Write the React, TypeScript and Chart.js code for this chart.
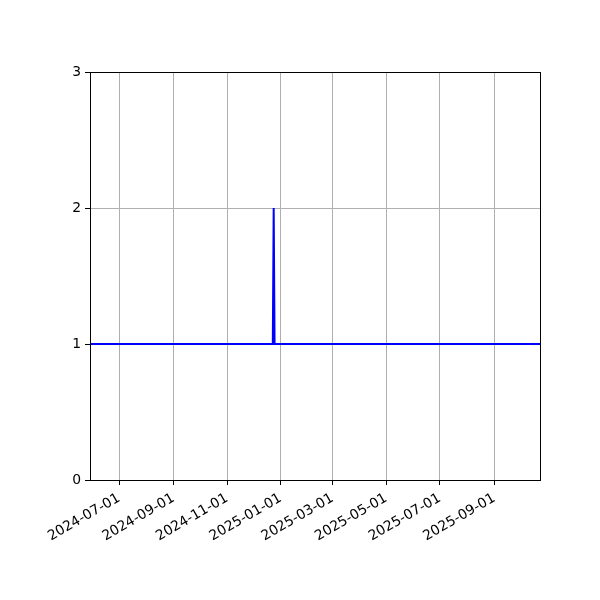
import React, { useEffect, useRef } from "react";
import { Chart, registerables } from "chart.js";

Chart.register(...registerables);

const DAY = 86400000;
const toDay = (s: string) => Date.parse(s + "T00:00:00Z") / DAY;
const fmt = (d: number) => new Date(Math.round(d) * DAY).toISOString().slice(0, 10);

// Observation dates and counts (constant 1 with a single spike to 2)
const dates = ["2024-05-29", "2024-12-23", "2024-12-24", "2024-12-25", "2025-10-23"];
const counts = [1, 1, 2, 1, 1];

const xTickLabels = [
  "2024-07-01", "2024-09-01", "2024-11-01", "2025-01-01",
  "2025-03-01", "2025-05-01", "2025-07-01", "2025-09-01",
];
const yTicks = [0, 1, 2, 3];

const FONT = "'DejaVu Sans', sans-serif";

const framePlugin = {
  id: "frame",
  afterDraw(chart: any) {
    const { ctx, chartArea } = chart;
    ctx.save();
    ctx.strokeStyle = "#000";
    ctx.lineWidth = 1;
    ctx.strokeRect(
      Math.round(chartArea.left) + 0.5,
      Math.round(chartArea.top) + 0.5,
      Math.round(chartArea.right - chartArea.left),
      Math.round(chartArea.bottom - chartArea.top)
    );
    ctx.restore();
  },
};

export default function App() {
  const ref = useRef<HTMLCanvasElement>(null);
  useEffect(() => {
    if (!ref.current) return;
    const chart = new Chart(ref.current, {
      type: "line",
      data: {
        datasets: [
          {
            data: dates.map((d, i) => ({ x: toDay(d), y: counts[i] })),
            borderColor: "#0000ff",
            borderWidth: 2,
            pointRadius: 0,
            tension: 0,
            fill: false,
          },
        ],
      },
      options: {
        animation: false,
        responsive: false,
        devicePixelRatio: 1,
        layout: { padding: { left: 0, right: 60, top: 72, bottom: 0 } },
        plugins: { legend: { display: false }, tooltip: { enabled: false } },
        scales: {
          x: {
            type: "linear",
            min: toDay(dates[0]),
            max: toDay(dates[dates.length - 1]),
            afterBuildTicks: (scale: any) => {
              scale.ticks = xTickLabels.map((s) => ({ value: toDay(s) }));
            },
            afterFit: (scale: any) => {
              scale.height = 120;
            },
            ticks: {
              autoSkip: false,
              maxRotation: 30,
              minRotation: 30,
              color: "#000",
              font: { family: FONT, size: 13.9 },
              padding: 5,
              callback: (v: any) => fmt(Number(v)),
            },
            grid: {
              color: "#b0b0b0",
              lineWidth: 1,
              tickColor: "#000",
              tickLength: 5,
            },
            border: { color: "#000", width: 1 },
          },
          y: {
            min: 0,
            max: 3,
            afterBuildTicks: (scale: any) => {
              scale.ticks = yTicks.map((v) => ({ value: v }));
            },
            afterFit: (scale: any) => {
              scale.width = 90;
            },
            ticks: {
              color: "#000",
              font: { family: FONT, size: 13.9 },
              padding: 4,
              callback: (v: any) => String(v),
            },
            grid: {
              color: "#b0b0b0",
              lineWidth: 1,
              tickColor: "#000",
              tickLength: 5,
            },
            border: { color: "#000", width: 1 },
          },
        },
      },
      plugins: [framePlugin],
    });
    return () => chart.destroy();
  }, []);
  return (
    <div style={{ position: "absolute", left: 0, top: 0, width: 600, height: 600, background: "#fff" }}>
      <canvas ref={ref} width={600} height={600} style={{ width: 600, height: 600 }} />
    </div>
  );
}
